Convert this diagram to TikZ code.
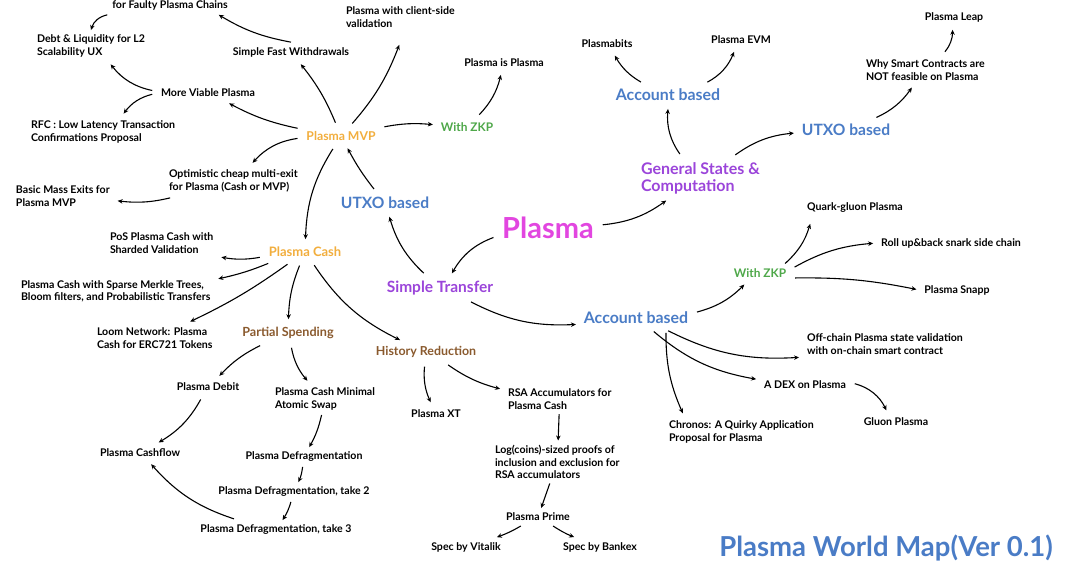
\documentclass[tikz,border=0pt]{standalone}
\usepackage{fontspec}
\setmainfont{Lato}
\usetikzlibrary{arrows.meta}
\definecolor{cOrange}{HTML}{F2AE3D}
\definecolor{cGreen}{HTML}{4FA84A}
\definecolor{cBlue}{HTML}{4A7CC6}
\definecolor{cPurple}{HTML}{9B45DA}
\definecolor{cMag}{HTML}{E246E0}
\definecolor{cBrown}{HTML}{8A5A2E}
\begin{document}
\begin{tikzpicture}[x=1pt,y=1pt,
  lbl/.style={font=\fontsize{10.6}{12.3}\selectfont\bfseries, text=black, inner sep=1pt, outer sep=4pt},
  lblL/.style={lbl, anchor=west, align=left},
  big/.style={font=\fontsize{#1}{#1}\selectfont\bfseries, inner sep=1pt, outer sep=4pt},
  arrS/.style={-{Stealth[length=5pt,width=4.5pt]}, line width=1.1pt},
  arr/.style={arrS, shorten <=4pt, shorten >=3pt}]
\useasboundingbox (0,-563) rectangle (1080,0);
\fill[white] (0,-563) rectangle (1080,0);
% ---- nodes ----
\node[lbl] (faulty) at (170,-5) {for Faulty Plasma Chains};
\node[lblL] (debt) at (32,-46) {Debt \& Liquidity for L2\\Scalability UX};
\node[lbl] (sfw) at (291,-52) {Simple Fast Withdrawals};
\node[lblL] (client) at (341,-17) {Plasma with client-side\\validation};
\node[lbl] (mvp2) at (208,-93) {More Viable Plasma};
\node[lblL] (rfc) at (26,-132) {RFC : Low Latency Transaction\\Confirmations Proposal};
\node[big=12.2, text=cOrange] (mvp) at (341,-136) {Plasma MVP};
\node[big=11.9, text=cGreen] (zkp1) at (467,-127) {With ZKP};
\node[lbl] (pip) at (504,-63) {Plasma is Plasma};
\node[lblL] (opt) at (164,-181) {Optimistic cheap multi-exit\\for Plasma (Cash or MVP)};
\node[lblL] (bme) at (11,-196) {Basic Mass Exits for\\Plasma MVP};
\node[big=15.6, text=cBlue] (utxoL) at (385,-203) {UTXO based};
\node[big=29, text=cMag] (plasma) at (548,-228) {Plasma};
\node[lblL] (pos) at (105,-243) {PoS Plasma Cash with\\Sharded Validation};
\node[big=13, text=cOrange] (cash) at (305,-252) {Plasma Cash};
\node[lblL] (smt) at (16,-291) {Plasma Cash with Sparse Merkle Trees,\\Bloom filters, and Probabilistic Transfers};
\node[big=15.5, text=cPurple] (st) at (440,-288) {Simple Transfer};
\node[big=15.9, text=cBlue] (accC) at (636,-318) {Account based};
\node[lblL] (loom) at (92,-338) {Loom Network: Plasma\\Cash for ERC721 Tokens};
\node[big=12.6, text=cBrown] (partial) at (288,-333) {Partial Spending};
\node[big=12.4, text=cBrown] (hist) at (426,-352) {History Reduction};
\node[lbl] (debit) at (208,-387) {Plasma Debit};
\node[lblL] (cmas) at (270,-399) {Plasma Cash Minimal\\Atomic Swap};
\node[lbl] (xt) at (436,-414) {Plasma XT};
\node[lblL] (rsa) at (503,-399) {RSA Accumulators for\\Plasma Cash};
\node[lblL] (log) at (490,-462) {Log(coins)-sized proofs of\\inclusion and exclusion for\\RSA accumulators};
\node[lbl] (cashflow) at (140,-453) {Plasma Cashflow};
\node[lbl] (defrag) at (304,-457) {Plasma Defragmentation};
\node[lbl] (defrag2) at (294,-492) {Plasma Defragmentation, take 2};
\node[lbl] (defrag3) at (276,-530) {Plasma Defragmentation, take 3};
\node[lbl] (prime) at (538,-517) {Plasma Prime};
\node[lbl] (vitalik) at (466,-547) {Spec by Vitalik};
\node[lbl] (bankex) at (600,-547) {Spec by Bankex};
\node[lbl] (plasmabits) at (607,-44) {Plasmabits};
\node[lbl] (evm) at (741,-40) {Plasma EVM};
\node[big=15.9, text=cBlue] (accT) at (668,-95) {Account based};
\node[lbl] (leap) at (954,-17) {Plasma Leap};
\node[lblL] (why) at (861,-70) {Why Smart Contracts are\\NOT feasible on Plasma};
\node[big=15.6, text=cBlue] (utxoR) at (846,-130) {UTXO based};
\node[text=cPurple, anchor=west, align=left, inner sep=1pt, outer sep=4pt, font=\fontsize{16}{17}\selectfont\bfseries] (gen) at (636,-178) {General States \&\\Computation};
\node[lbl] (quark) at (855,-208) {Quark-gluon Plasma};
\node[lbl] (rollup) at (951,-243) {Roll up\&back snark side chain};
\node[big=11.9, text=cGreen] (zkp2) at (760,-273) {With ZKP};
\node[lbl] (snapp) at (957,-290) {Plasma Snapp};
\node[lblL] (offchain) at (802,-344) {Off-chain Plasma state validation\\with on-chain smart contract};
\node[lbl] (dex) at (805,-385) {A DEX on Plasma};
\node[lbl] (gluon) at (896,-422) {Gluon Plasma};
\node[lblL] (chronos) at (664,-432) {Chronos: A Quirky Application\\Proposal for Plasma};
\node[big=27.5, text=cBlue] (title) at (886,-548) {Plasma World Map(Ver 0.1)};
% ---- connectors ----
\draw[arrS] (faulty.south west) to[bend right=30] (debt.north);
\draw[arrS] (sfw.north) to[bend left=10] ([xshift=-14pt]faulty.south east);
\draw[arr] (mvp2) to[bend left=20] (debt);
\draw[arr] (mvp2) to[bend right=20] (rfc);
\draw[arr] (mvp) to[bend left=8] (mvp2);
\draw[arr] (mvp) to[bend right=8] (sfw);
\draw[arr] (mvp) to[bend right=10] ([yshift=-10pt]client.south);
\draw[arr] (mvp) to[bend left=8] (zkp1);
\draw[arr] (zkp1) to[bend right=15] (pip);
\draw[arr] (mvp) to[bend right=20] (opt);
\draw[arr] (opt) to[bend left=10] (bme);
\draw[arr] (mvp) to[bend right=15] (cash);
\draw[arr] (utxoL) to[bend left=5] (mvp);
\draw[arr] (st) to[bend left=15] (utxoL);
\draw[arr] (plasma) to[bend right=20] (st);
\draw[arr] (plasma) to[bend right=15] (gen);
\draw[arr] (gen) to[bend left=20] (accT);
\draw[arr] (accT) to[bend left=15] (plasmabits);
\draw[arr] (accT) to[bend right=20] (evm);
\draw[arr] (gen) to[bend left=15] (utxoR);
\draw[arr] (utxoR) to[bend right=15] (why);
\draw[arr] (why) to[bend right=20] (leap);
\draw[arr] (st) to[bend right=15] (accC);
\draw[arr] (accC) to[bend right=15] (zkp2);
\draw[arrS] ([xshift=-6pt]zkp2.north east) to[bend right=15] ([shift={(8pt,-6pt)}]quark.south west);
\draw[arr] ([yshift=4pt]zkp2.east) to[bend left=12] (rollup.west);
\draw[arr] ([yshift=-5pt]zkp2.east) to[bend left=6] (snapp.west);
\draw[arr] (accC) to[bend right=15] (offchain);
\draw[arr] (accC) to[bend right=15] (dex);
\draw[arr] ([xshift=30pt]accC.south) to[bend right=12] ([xshift=20pt]chronos.north west);
\draw[arr] (dex) to[bend left=25] (gluon);
\draw[arr] (cash) to[bend left=10] (pos);
\draw[arr] (cash) to[bend left=5] (smt);
\draw[arr] (cash) to[bend left=5] (loom);
\draw[arr] (cash) to[bend right=10] (partial);
\draw[arr] (cash) to[bend right=15] (hist);
\draw[arr] (partial) to[bend right=10] (debit);
\draw[arr] (partial) to[bend right=15] (cmas);
\draw[arr] (debit) to[bend left=15] (cashflow);
\draw[arr] (defrag3) to[bend left=15] (cashflow);
\draw[arrS] (cmas) to[bend left=8] (defrag);
\draw[arrS] (defrag) to[bend left=8] (defrag2);
\draw[arrS] (defrag2) to[bend left=8] (defrag3);
\draw[arr] (hist) to[bend right=15] (xt);
\draw[arr] (hist) to[bend right=10] (rsa);
\draw[arrS] (rsa) -- (log);
\draw[arrS] (log) -- (prime);
\draw[arrS] (prime) to[bend left=5] (vitalik);
\draw[arrS] (prime) to[bend right=5] (bankex);
\end{tikzpicture}
\end{document}
